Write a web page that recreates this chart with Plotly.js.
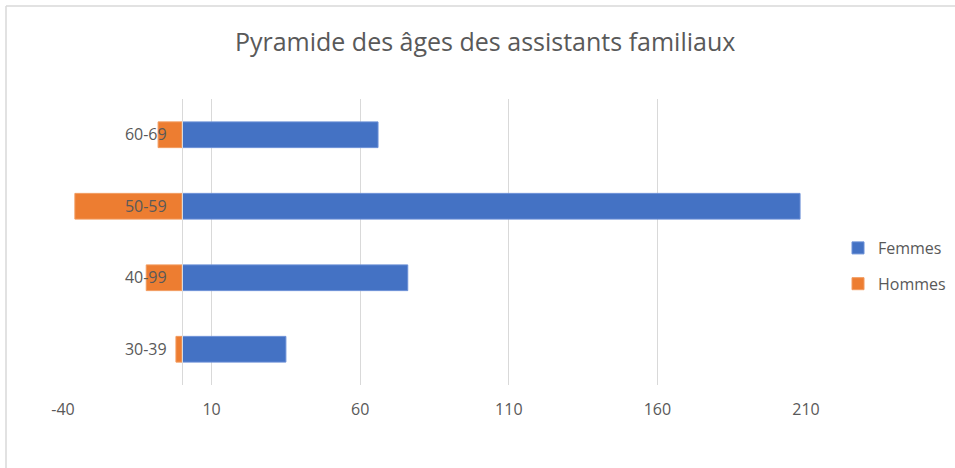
<!DOCTYPE html>
<html><head><meta charset="utf-8">
<script src="https://cdn.plot.ly/plotly-3.0.1.min.js"></script>
<style>html,body{margin:0;padding:0;background:#fff}#c{width:955px;height:468px}</style>
</head><body><div id="c"></div>
<script>
var categories = ["30-39", "40-99", "50-59", "60-69"];
var femmes = [35, 76, 208, 66];
var hommes = [-2, -12, -36, -8];
var xTicks = [-40, 10, 60, 110, 160, 210];

var L = 63, R = 806, T = 99, B = 385, W = 955, H = 468;
var pw = R - L, ph = B - T;
var xmin = -40, xmax = 210;
var zeroPos = (0 - xmin) / (xmax - xmin);

var font = "'Segoe UI', 'Open Sans', 'Noto Sans', sans-serif";
var traces = [
  {type: 'bar', orientation: 'h', name: 'Femmes', legendgroup: 'f', y: categories, x: femmes,
   marker: {color: '#4472C4', line: {color: '#6a8fd6', width: 1}}, width: 0.36, hoverinfo: 'x+y'},
  {type: 'bar', orientation: 'h', name: 'Hommes', legendgroup: 'h', y: categories, x: hommes,
   marker: {color: '#ED7D31', line: {color: '#f29a5e', width: 1}}, width: 0.36, hoverinfo: 'x+y'}
];
var layout = {
  width: W, height: H,
  margin: {l: L, r: W - R, t: T, b: H - B, pad: 0, autoexpand: false},
  paper_bgcolor: '#fff', plot_bgcolor: '#fff',
  barmode: 'relative',
  title: {text: 'Pyramide des âges des assistants familiaux', x: 0.508, xanchor: 'center', y: 0.91, yanchor: 'middle',
          font: {family: font, size: 25, color: '#595959'}},
  xaxis: {range: [xmin, xmax], tickvals: xTicks, ticktext: xTicks.map(String), showgrid: true,
          gridcolor: '#d9d9d9', gridwidth: 1.3, zeroline: false, showline: false, ticks: '',
          tickfont: {family: font, size: 16, color: '#595959'}, ticklabelstandoff: 13, fixedrange: true},
  yaxis: {type: 'category', anchor: 'free', position: zeroPos, showline: true, linecolor: '#d9d9d9', linewidth: 1.5,
          showgrid: false, zeroline: false, ticks: 'outside', ticklen: 12, tickcolor: 'rgba(0,0,0,0)',
          tickfont: {family: font, size: 16, color: '#595959'}, fixedrange: true},
  legend: {x: (838 - L) / pw, xanchor: 'left', y: (B - 266) / ph, yanchor: 'middle',
           traceorder: 'grouped', font: {family: font, size: 16, color: '#595959'},
           itemwidth: 30, tracegroupgap: 12, bgcolor: 'rgba(0,0,0,0)'},
  showlegend: true,
  shapes: [
    {type: 'line', xref: 'paper', yref: 'paper', x0: (6 - L) / pw, x1: (6 - L) / pw,
     y0: (B - 470) / ph, y1: 1 + (T - 6) / ph, line: {color: '#d9d9d9', width: 1.5}},
    {type: 'line', xref: 'paper', yref: 'paper', x0: (6 - L) / pw, x1: (960 - L) / pw,
     y0: 1 + (T - 6) / ph, y1: 1 + (T - 6) / ph, line: {color: '#d9d9d9', width: 1.5}}
  ]
};
Plotly.newPlot('c', traces, layout, {displayModeBar: false, staticPlot: true});
</script></body></html>
